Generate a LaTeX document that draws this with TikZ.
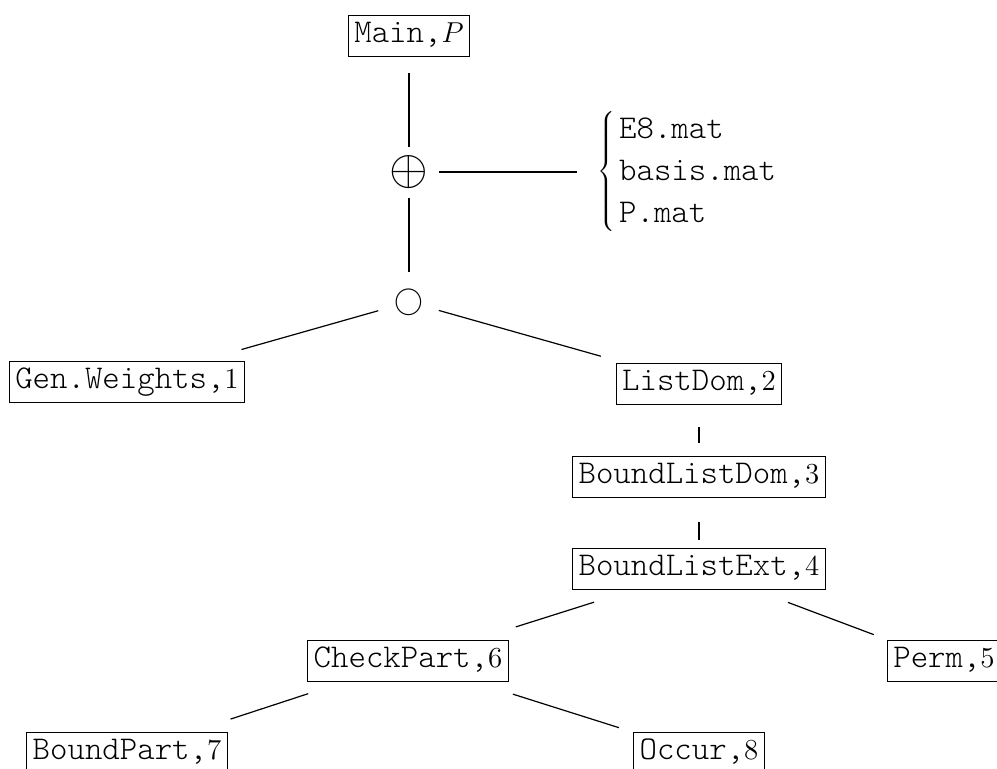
\documentclass[tikz,border=0pt]{standalone}
\usepackage{fontspec}
\setmonofont{Latin Modern Mono Light}
\usetikzlibrary{calc}
% typewriter names, sized so each character advances 17.4 px
\newcommand\mt[1]{\mbox{\fontsize{16.6}{20}\ttfamily #1}}
\begin{document}
\begin{tikzpicture}[x=0.5pt,y=-0.5pt,
  every node/.style={font=\fontsize{14.5}{17.4}\selectfont},
  box/.style={draw, line width=0.5pt, inner xsep=3pt, inner ysep=3.75pt,
              text height=10pt, text depth=3pt},
  op/.style={inner sep=0pt},
  link/.style={line width=0.6pt}]
\useasboundingbox (0,0) rectangle (997,769);
\clip (0,0) rectangle (997,769);

% nodes of the call tree
\node[box] (main) at (409,36) {\mt{Main,}$P$};
\node[op, font=\fontsize{25}{30}\selectfont] (oplus) at (409,172) {$\oplus$};
\node[op, anchor=west] (files) at (597,172)
  {\renewcommand\arraystretch{1.2}%
   $\left\{\begin{array}{@{\hspace{2pt}}l@{}}
     \mt{E8.mat}\\ \mt{basis.mat}\\ \mt{P.mat}
   \end{array}\right.$};
\node[op, font=\fontsize{15.5}{18}\selectfont] (circ) at (409,302) {$\bigcirc$};
\node[box] (gen) at (127,382) {\mt{Gen.Weights,}1};
\node[box] (ld)  at (699,384) {\mt{ListDom,}2};
\node[box] (bld) at (699,477) {\mt{BoundListDom,}3};
\node[box] (ble) at (699,569) {\mt{BoundListExt,}4};
\node[box] (cp)  at (408,661) {\mt{CheckPart,}6};
\node[box] (perm) at (944,661) {\mt{Perm,}5};
\node[box] (bp)  at (127,753) {\mt{BoundPart,}7};
\node[box] (occ) at (699,753) {\mt{Occur,}8};

% connectors, kept short of the nodes they join
\draw[link] ($(main)!18.5pt!(oplus)$) -- ($(oplus)!12.5pt!(main)$);
\draw[link] ($(oplus)!15pt!(files.west)$) -- ($(files.west)!10pt!(oplus)$);
\draw[link] ($(oplus)!13pt!(circ)$) -- ($(circ)!15pt!(oplus)$);
\draw[link] ($(circ)!16pt!(gen)$) -- ($(gen)!59.5pt!(circ)$);
\draw[link] ($(circ)!15.5pt!(ld)$) -- ($(ld)!51pt!(circ)$);
\draw[link] ($(ld)!21.5pt!(bld)$) -- ($(bld)!17pt!(ld)$);
\draw[link] ($(bld)!22.5pt!(ble)$) -- ($(ble)!14.5pt!(bld)$);
\draw[link] ($(ble)!55pt!(cp)$) -- ($(cp)!56.5pt!(ble)$);
\draw[link] ($(ble)!47.5pt!(perm)$) -- ($(perm)!37.5pt!(ble)$);
\draw[link] ($(cp)!52.5pt!(bp)$) -- ($(bp)!54.5pt!(cp)$);
\draw[link] ($(cp)!55pt!(occ)$) -- ($(occ)!42pt!(cp)$);
\end{tikzpicture}
\end{document}
